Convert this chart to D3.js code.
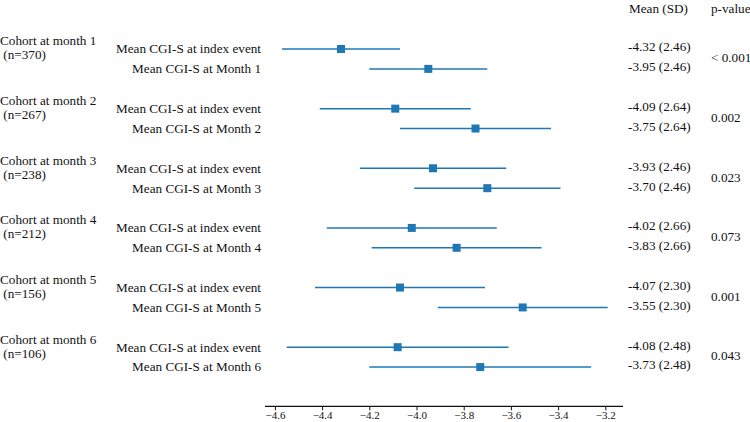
<!DOCTYPE html>
<html><head><meta charset="utf-8">
<script src="https://cdn.jsdelivr.net/npm/d3@7"></script>
<style>body{margin:0;background:#fff}text{font-family:"Liberation Serif","Times New Roman",serif;fill:#111}</style>
</head><body><svg id="c" width="750" height="422"></svg>
<script>
const cohorts = ["Cohort at month 1","Cohort at month 2","Cohort at month 3","Cohort at month 4","Cohort at month 5","Cohort at month 6"];
const nLabels = ["(n=370)","(n=267)","(n=238)","(n=212)","(n=156)","(n=106)"];
const rowLabels = ["Mean CGI-S at index event","Mean CGI-S at Month 1","Mean CGI-S at index event","Mean CGI-S at Month 2","Mean CGI-S at index event","Mean CGI-S at Month 3","Mean CGI-S at index event","Mean CGI-S at Month 4","Mean CGI-S at index event","Mean CGI-S at Month 5","Mean CGI-S at index event","Mean CGI-S at Month 6"];
const means = [-4.32,-3.95,-4.09,-3.75,-3.93,-3.70,-4.02,-3.83,-4.07,-3.55,-4.08,-3.73];
const lows  = [-4.57,-4.20,-4.41,-4.07,-4.24,-4.01,-4.38,-4.19,-4.43,-3.91,-4.55,-4.20];
const highs = [-4.07,-3.70,-3.77,-3.43,-3.62,-3.39,-3.66,-3.47,-3.71,-3.19,-3.61,-3.26];
const meanSD = ["-4.32 (2.46)","-3.95 (2.46)","-4.09 (2.64)","-3.75 (2.64)","-3.93 (2.46)","-3.70 (2.46)","-4.02 (2.66)","-3.83 (2.66)","-4.07 (2.30)","-3.55 (2.30)","-4.08 (2.48)","-3.73 (2.48)"];
const pValues = ["< 0.001","0.002","0.023","0.073","0.001","0.043"];
const xTicks = [-4.6,-4.4,-4.2,-4.0,-3.8,-3.6,-3.4,-3.2];

const svg = d3.select("#c");
const x = d3.scaleLinear().domain([-4.642,-3.125]).range([265,623]);
// row slots: each cohort uses 3 slots (index, month, gap)
const y = d3.scaleLinear().domain([0,1]).range([49,68.88]);
const slot = i => Math.floor(i/2)*3 + (i%2);
const color = "#1f77b4";

// axis
const axisY = y(18) - 0.5;
const ax = svg.append("g").attr("transform",`translate(0,${axisY})`)
  .call(d3.axisBottom(x).tickValues(xTicks).tickSize(4).tickPadding(1).tickFormat(d3.format(".1f")));
ax.select(".domain").attr("stroke","#111").attr("stroke-width",1.2).attr("d",`M${x.range()[0]},0H${x.range()[1]}`);
ax.selectAll(".tick line").attr("stroke","#111");
ax.selectAll(".tick text").style("font-family",'"Liberation Serif",serif').style("font-size","11px").attr("fill","#111");

// CI lines
svg.selectAll("line.ci").data(means).join("line").attr("class","ci")
  .attr("x1",(d,i)=>x(lows[i])).attr("x2",(d,i)=>x(highs[i]))
  .attr("y1",(d,i)=>y(slot(i))).attr("y2",(d,i)=>y(slot(i)))
  .attr("stroke",color).attr("stroke-width",1.5);
// markers
svg.selectAll("rect.pt").data(means).join("rect").attr("class","pt")
  .attr("x",d=>x(d)-4).attr("y",(d,i)=>y(slot(i))-4).attr("width",8).attr("height",8)
  .attr("fill",color);

// row labels
svg.selectAll("text.rl").data(rowLabels).join("text").attr("class","rl")
  .attr("x",261).attr("y",(d,i)=>y(slot(i))).attr("dy","0.33em")
  .attr("text-anchor","end").style("font-size","13.2px").text(d=>d);

// cohort labels
cohorts.forEach((c,g)=>{
  const yy = y(g*3);
  svg.append("text").attr("x",0).attr("y",yy-8).attr("dy","0.33em").style("font-size","13.2px").text(c);
  svg.append("text").attr("x",0).attr("y",yy+6).attr("dy","0.33em").style("font-size","13.2px").text("\u00a0"+nLabels[g]);
});

// mean (SD)
svg.append("text").attr("x",629).attr("y",y(-2)-1).attr("dy","0.33em").style("font-size","13.2px").text("Mean (SD)");
svg.append("text").attr("x",711).attr("y",y(-2)-1).attr("dy","0.33em").style("font-size","13.2px").text("p-value");
svg.selectAll("text.ms").data(meanSD).join("text").attr("class","ms")
  .attr("x",628).attr("y",(d,i)=>y(slot(i))-2).attr("dy","0.33em").style("font-size","13.2px").text(d=>d);
svg.selectAll("text.pv").data(pValues).join("text").attr("class","pv")
  .attr("x",711).attr("y",(d,g)=>y(g*3+0.5)-1).attr("dy","0.33em").style("font-size","13.2px").text(d=>d);
</script></body></html>
